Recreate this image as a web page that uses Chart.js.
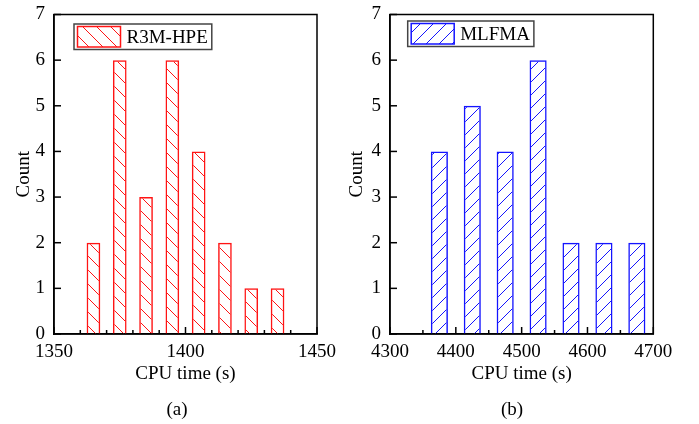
<!DOCTYPE html>
<html>
<head>
<meta charset="utf-8">
<script src="https://cdn.jsdelivr.net/npm/chart.js@4"></script>
<style>
  body { margin: 0; background: #fff; }
  #wrap { position: relative; width: 699px; height: 424px; }
  canvas { position: absolute; top: 0; }
  .cap { position: absolute; top: 398px; width: 60px; text-align: center;
         font: 19px "Liberation Serif", "Times New Roman", serif; line-height: 22px; color: #000; }
</style>
</head>
<body>
<div id="wrap">
  <canvas id="chartA" width="340" height="424" style="left:0"></canvas>
  <canvas id="chartB" width="359" height="424" style="left:340px"></canvas>
  <div class="cap" style="left:147px">(a)</div>
  <div class="cap" style="left:482px">(b)</div>
</div>
<script>
// R3M-HPE histogram (bin centres, counts)
const rtBins = [1365, 1375, 1385, 1395, 1405, 1415, 1425, 1435];
const rtCounts = [2, 6, 3, 6, 4, 2, 1, 1];
const rtRange = [1350, 1450];

// MLFMA histogram
const mlBins = [4375, 4425, 4475, 4525, 4575, 4625, 4675];
const mlCounts = [4, 5, 4, 6, 2, 2, 2];
const mlRange = [4300, 4700];

const countRange = [0, 7];

const FONT = '"Liberation Serif", "Times New Roman", serif';

// hatch fill, dir 1 = "\" , -1 = "/"
function hatch(color, size, dir) {
  const c = document.createElement("canvas");
  c.width = size; c.height = size;
  const g = c.getContext("2d");
  g.strokeStyle = color;
  g.lineWidth = 1;
  for (let x0 = -size; x0 <= size; x0 += size) {
    g.beginPath();
    if (dir > 0) { g.moveTo(x0, 0); g.lineTo(x0 + size, size); }
    else { g.moveTo(x0, size); g.lineTo(x0 + size, 0); }
    g.stroke();
  }
  return g.createPattern(c, "repeat");
}

// inward ticks + top/right frame
const frameTicks = {
  id: "frameTicks",
  afterDraw(chart, args, o) {
    const ctx = chart.ctx, a = chart.chartArea;
    const xs = chart.scales.x, ys = chart.scales.y;
    ctx.save();
    ctx.strokeStyle = "#000";
    ctx.lineWidth = 1.5;
    ctx.strokeRect(a.left, a.top, a.right - a.left, a.bottom - a.top);
    xs.ticks.forEach(t => {
      const px = xs.getPixelForValue(t.value);
      const len = t.value % o.major === 0 ? 7 : 4;
      ctx.beginPath();
      ctx.moveTo(px, a.bottom);
      ctx.lineTo(px, a.bottom - len);
      ctx.stroke();
    });
    ys.ticks.forEach(t => {
      const py = ys.getPixelForValue(t.value);
      ctx.beginPath();
      ctx.moveTo(a.left, py);
      ctx.lineTo(a.left + 7, py);
      ctx.stroke();
    });
    ctx.restore();
  }
};

// boxed legend inside the plot
const boxLegend = {
  id: "boxLegend",
  afterDraw(chart, args, o) {
    const ctx = chart.ctx, a = chart.chartArea;
    const ds = chart.data.datasets[0];
    ctx.save();
    ctx.font = "19px " + FONT;
    const tw = ctx.measureText(ds.label).width;
    const x = a.left + o.x, y = a.top + o.y, h = 25.5;
    const w = 3.5 + 43 + 6 + tw + 4;
    ctx.strokeStyle = "#444";
    ctx.lineWidth = 1.5;
    ctx.strokeRect(x, y, w, h);
    ctx.fillStyle = ds.backgroundColor;
    ctx.fillRect(x + 3.5, y + 2.5, 43, h - 5);
    ctx.strokeStyle = ds.borderColor;
    ctx.strokeRect(x + 3.5, y + 2.5, 43, h - 5);
    ctx.fillStyle = "#000";
    ctx.textBaseline = "middle";
    ctx.fillText(ds.label, x + 52.5, y + h / 2 + 1);
    ctx.restore();
  }
};

function makePanel(id, label, bins, counts, range, step, major, color, dir, tile, pad, legendPos, yTitleOffset) {
  const ctx = document.getElementById(id).getContext("2d");
  return new Chart(ctx, {
    type: "bar",
    data: {
      datasets: [{
        label: label,
        data: bins.map((b, i) => ({ x: b, y: counts[i] })),
        backgroundColor: hatch(color, tile, dir),
        borderColor: color,
        borderWidth: 1.5,
        barPercentage: 0.52,
        categoryPercentage: 1.0
      }]
    },
    options: {
      responsive: false,
      animation: false,
      devicePixelRatio: 1,
      layout: { padding: pad },
      plugins: {
        legend: { display: false },
        tooltip: { enabled: false },
        frameTicks: { major: major },
        boxLegend: legendPos
      },
      scales: {
        x: {
          type: "linear",
          offset: false,
          min: range[0],
          max: range[1],
          grid: { display: false, drawTicks: false },
          border: { display: true, color: "#000", width: 1.5 },
          ticks: {
            stepSize: step,
            autoSkip: false,
            maxRotation: 0,
            padding: 7,
            color: "#000",
            font: { family: FONT, size: 19 },
            callback: v => (v % major === 0 ? String(v) : "")
          },
          title: {
            display: true,
            text: "CPU time (s)",
            color: "#000",
            font: { family: FONT, size: 19, lineHeight: 1.2 },
            padding: { top: 0, bottom: 38.6 }
          },
          afterFit: s => { s.height = 90; s.paddingLeft = 0; s.paddingRight = 0; }
        },
        y: {
          min: countRange[0],
          max: countRange[1],
          grid: { display: false, drawTicks: false },
          border: { display: true, color: "#000", width: 1.5 },
          ticks: {
            stepSize: 1,
            padding: 9,
            color: "#000",
            font: { family: FONT, size: 19 }
          },
          title: {
            display: true,
            text: "Count",
            color: "#000",
            font: { family: FONT, size: 19, lineHeight: 1.2 },
            padding: { top: yTitleOffset - 11.4, bottom: 0 }
          },
          afterFit: s => { s.width = pad.yw; s.paddingTop = 0; s.paddingBottom = 0; }
        }
      }
    },
    plugins: [frameTicks, boxLegend]
  });
}

makePanel("chartA", "R3M-HPE", rtBins, rtCounts, rtRange, 10, 50, "rgb(255,20,20)", 1, 14,
  { top: 14.5, right: 23, left: 0, bottom: 0, yw: 54 }, { x: 20, y: 9.5 }, 24);
makePanel("chartB", "MLFMA", mlBins, mlCounts, mlRange, 50, 100, "rgb(20,20,255)", -1, 13,
  { top: 14.5, right: 45.7, left: 0, bottom: 0, yw: 50 }, { x: 17.7, y: 6.5 }, 17.5);
</script>
</body>
</html>
